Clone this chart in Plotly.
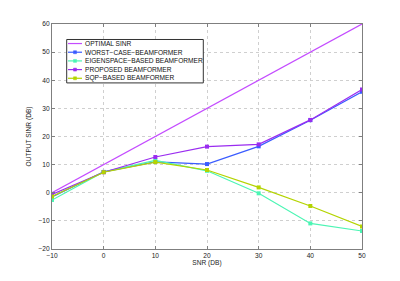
import plotly.graph_objects as go

snr = [-10, 0, 10, 20, 30, 40, 50]
optimal = [0, 10, 20, 30, 40, 50, 60]
worst_case = [-1.5, 7.4, 11.0, 10.2, 16.5, 25.8, 35.9]
eigenspace = [-2.6, 7.4, 11.5, 7.8, -0.2, -10.9, -13.6]
proposed = [-0.6, 7.3, 12.7, 16.4, 17.2, 25.9, 36.7]
sqp = [-1.3, 7.3, 10.9, 8.1, 1.9, -4.7, -12.0]

names = ["OPTIMAL SINR", "WORST\u2212CASE\u2212BEAMFORMER", "EIGENSPACE\u2212BASED BEAMFORMER",
         "PROPOSED BEAMFORMER", "SQP\u2212BASED BEAMFORMER"]
colors = ["#c44cff", "#3a5cff", "#4cf5b4", "#9a2cf0", "#b4d400"]
has_marker = [False, True, True, True, True]
series = [optimal, worst_case, eigenspace, proposed, sqp]

FONT = "Liberation Sans, Arial, Helvetica"
# the page body has an 8px default margin, so the figure is drawn 8px in/down
OFF = 8
W, H = 400 - OFF, 281 - OFF
# plot box in screen pixels
X0, X1, Y0, Y1 = 52, 362, 21, 249
ML, MT = X0 - OFF, Y0 - OFF
MR, MB = (W + OFF) - X1, (H + OFF) - Y1
PW, PH = X1 - X0, Y1 - Y0

fig = go.Figure()
for ys, nm, c, mk in zip(series, names, colors, has_marker):
    fig.add_trace(go.Scatter(x=snr, y=ys, mode="lines+markers" if mk else "lines", name=nm,
                             line=dict(color=c, width=1.2),
                             marker=dict(symbol="square", size=4, color=c)))

axis_common = dict(showline=True, linecolor="#7f7f7f", linewidth=1.2, mirror="ticks",
                   ticks="inside", ticklen=3, tickcolor="#7f7f7f",
                   showgrid=True, gridcolor="#cfcfcf", griddash="dot", gridwidth=1,
                   zeroline=False, tickfont=dict(family=FONT, size=6.6, color="#222"))

fig.update_xaxes(range=[-10, 50], tickvals=[-10, 0, 10, 20, 30, 40, 50],
                 title=dict(text="SNR (DB)", font=dict(family=FONT, size=6.6, color="#222"), standoff=1),
                 **axis_common)
fig.update_yaxes(range=[-20, 60], tickvals=[-20, -10, 0, 10, 20, 30, 40, 50, 60],
                 title=dict(text="OUTPUT SINR (DB)", font=dict(family=FONT, size=6.6, color="#222"), standoff=6),
                 **axis_common)


def px(x):
    return (x - X0) / PW


def py(y):
    return (Y1 - y) / PH


shapes = [dict(type="rect", xref="paper", yref="paper", x0=px(66.7), x1=px(203.3), y0=py(80.7), y1=py(36.7),
               fillcolor="white", line=dict(color="#333333", width=1), layer="above")]
annotations = []
for i, (nm, c, mk) in enumerate(zip(names, colors, has_marker)):
    yc = 40.8 + 8.8 * i
    shapes.append(dict(type="line", xref="paper", yref="paper", x0=px(68), x1=px(82), y0=py(yc), y1=py(yc),
                       line=dict(color=c, width=1.2), layer="above"))
    if mk:
        shapes.append(dict(type="rect", xref="paper", yref="paper", x0=px(73.5), x1=px(76.5),
                           y0=py(yc + 1.5), y1=py(yc - 1.5), fillcolor=c, line=dict(color=c, width=0.5),
                           layer="above"))
    annotations.append(dict(xref="paper", yref="paper", x=px(82.5), y=py(yc), text=nm, showarrow=False,
                            xanchor="left", yanchor="middle", font=dict(family=FONT, size=6.6, color="#111")))

fig.update_layout(
    width=W, height=H,
    margin=dict(l=ML, r=MR, t=MT, b=MB),
    paper_bgcolor="white", plot_bgcolor="white",
    showlegend=False,
    shapes=shapes, annotations=annotations,
)

fig.write_html("out.html")
